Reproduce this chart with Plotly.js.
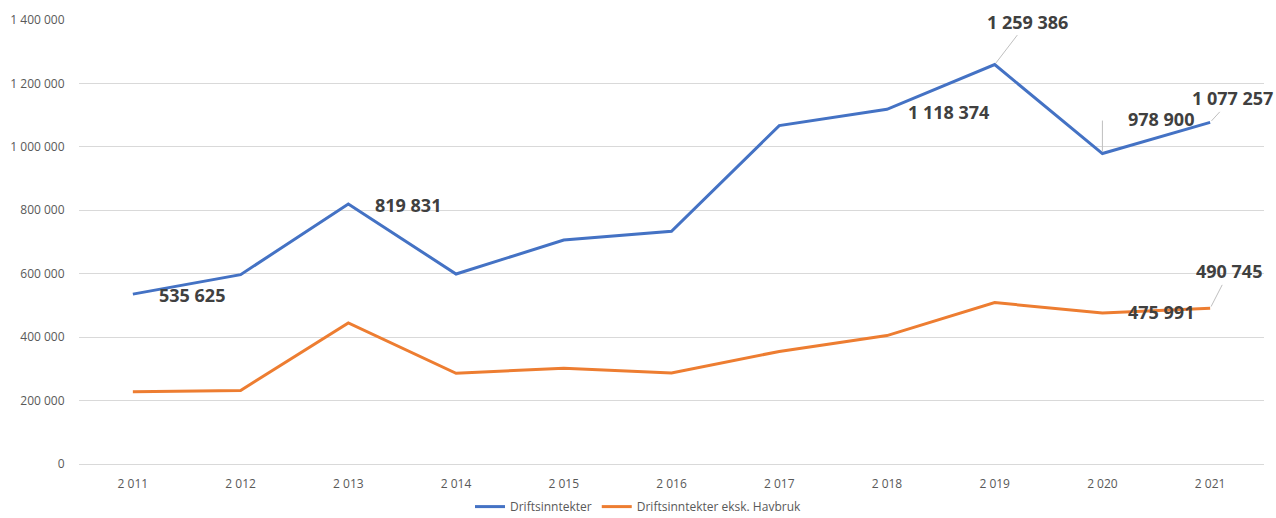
<!DOCTYPE html>
<html>
<head>
<meta charset="utf-8">
<script src="https://cdn.plot.ly/plotly-3.0.1.min.js"></script>
<style>html,body{margin:0;padding:0;background:#fff;}#chart{width:1276px;height:518px;}</style>
</head>
<body>
<div id="chart"></div>
<script>
const years = ["2 011","2 012","2 013","2 014","2 015","2 016","2 017","2 018","2 019","2 020","2 021"];
const driftsinntekter = [535625, 597000, 819831, 599000, 706000, 734000, 1067000, 1118374, 1259386, 978900, 1077257];
const eksHavbruk = [228000, 232000, 445000, 286000, 302000, 287000, 355000, 405000, 509000, 475991, 490745];
const seriesNames = ["Driftsinntekter", "Driftsinntekter eksk. Havbruk"];

const fmt = v => String(v).replace(/\B(?=(\d{3})+(?!\d))/g, " ");

const traces = [
  {x: years, y: driftsinntekter, name: seriesNames[0], type: "scatter", mode: "lines",
   line: {color: "#4472C4", width: 3}, hoverinfo: "x+y"},
  {x: years, y: eksHavbruk, name: seriesNames[1], type: "scatter", mode: "lines",
   line: {color: "#ED7D31", width: 3}, hoverinfo: "x+y"}
];

const labelFont = {family: "Open Sans, sans-serif", size: 18, color: "#404040", weight: "bold"};
function lab(i, arr, xs, ys) {
  return {x: years[i], y: arr[i], text: "<b>" + fmt(arr[i]) + "</b>", showarrow: false,
          xshift: xs, yshift: ys, font: labelFont, xanchor: "center", yanchor: "middle"};
}
function lead(i, arr, ax, ay) {
  return {x: years[i], y: arr[i], text: "<b>" + fmt(arr[i]) + "</b>", showarrow: true,
          arrowhead: 0, arrowwidth: 1, arrowcolor: "#bfbfbf", ax: ax, ay: ay, standoff: 2,
          font: labelFont, xanchor: "center", yanchor: "middle"};
}

const annotations = [
  lab(0, driftsinntekter, 59, -1),
  lab(2, driftsinntekter, 60, -1),
  lab(7, driftsinntekter, 62, -3),
  lead(8, driftsinntekter, 33, -43),
  lab(9, driftsinntekter, 59, 35),
  {x: years[9], y: driftsinntekter[9], text: " ", showarrow: true, arrowhead: 0, arrowwidth: 1,
   arrowcolor: "#bfbfbf", ax: 0, ay: -35, standoff: 2, font: {size: 1}},
  lead(10, driftsinntekter, 22, -24),
  lab(9, eksHavbruk, 59, 1),
  lead(10, eksHavbruk, 19, -37)
];

const layout = {
  width: 1276, height: 518,
  margin: {l: 79, r: 12, t: 20, b: 54, autoexpand: false},
  paper_bgcolor: "#ffffff", plot_bgcolor: "#ffffff",
  separators: ", ",
  font: {family: "Open Sans, sans-serif", color: "#595959", size: 12},
  showlegend: true,
  legend: {orientation: "h", x: 0.5, xanchor: "center", xref: "container",
           y: 0.022, yanchor: "middle", yref: "container",
           font: {size: 12, color: "#595959"}, itemwidth: 30, tracegroupgap: 0},
  xaxis: {type: "category", range: [-0.5, 10.5], showgrid: false, zeroline: false,
          showline: false, ticks: "outside", ticklen: 9, tickcolor: "#ffffff",
          tickfont: {size: 12, color: "#595959"}, fixedrange: true, automargin: false},
  yaxis: {range: [0, 1400000], dtick: 200000, tickformat: ",d", showgrid: true,
          gridcolor: "#d9d9d9", gridwidth: 1, zeroline: true, zerolinecolor: "#d9d9d9",
          zerolinewidth: 1, showline: false, ticks: "outside", ticklen: 11, tickcolor: "#ffffff",
          tickfont: {size: 12, color: "#595959"}, fixedrange: true, automargin: false},
  annotations: annotations
};

Plotly.newPlot("chart", traces, layout, {displayModeBar: false, staticPlot: true});
</script>
</body>
</html>
